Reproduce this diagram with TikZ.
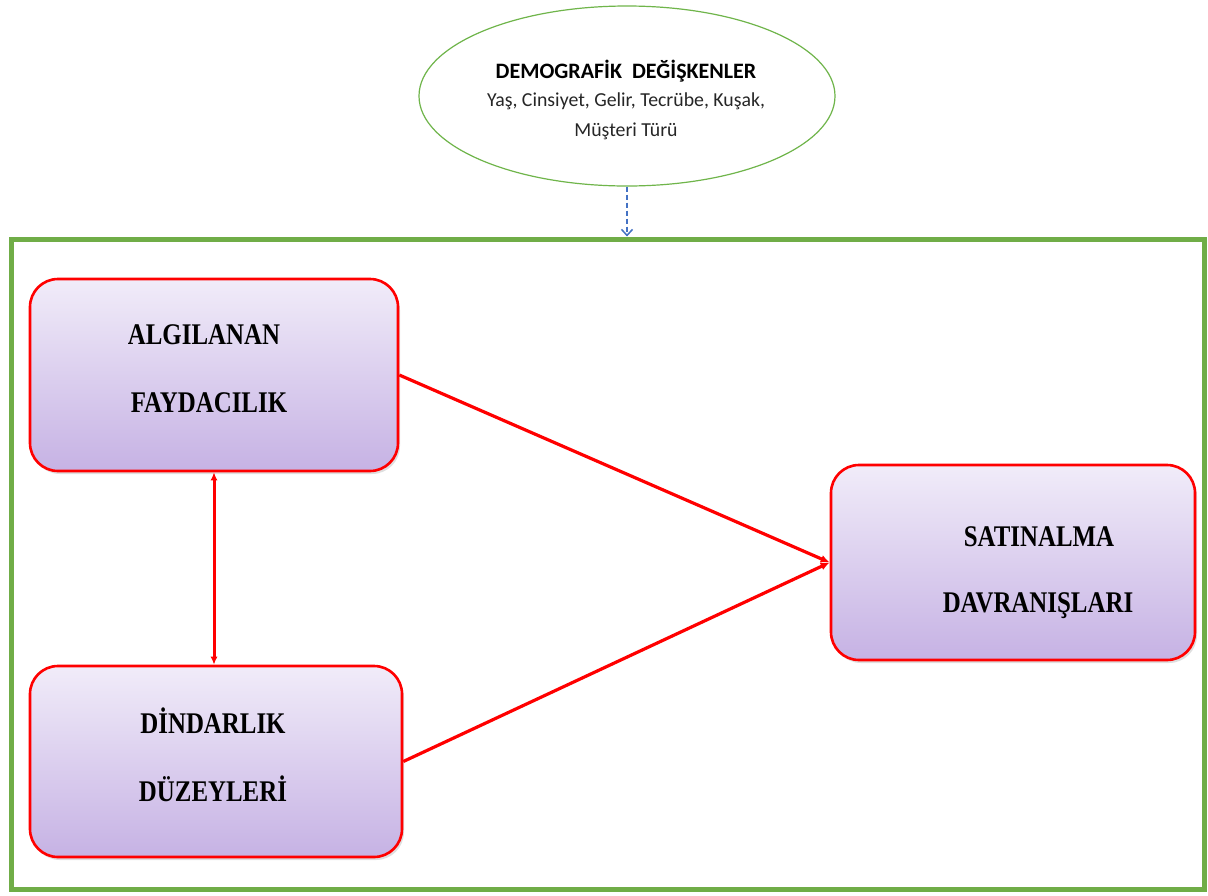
\documentclass[tikz,border=0pt]{standalone}
\usepackage{fontspec}
\usetikzlibrary{arrows.meta,shapes.geometric,shadows}
\newfontfamily\boxfont[FakeStretch=0.83]{Liberation Serif}
\newfontfamily\ovalfont{Carlito}
\definecolor{framegreen}{HTML}{70AD47}
\definecolor{ovalgreen}{HTML}{6FB54A}
\definecolor{dashblue}{HTML}{4472C4}
\definecolor{boxtop}{HTML}{F1ECF9}
\definecolor{boxbottom}{HTML}{C6B2E4}
\begin{document}
\begin{tikzpicture}[x=1pt,y=-1pt,
  factorbox/.style={draw=red,line width=2.6pt,rounded corners=28pt,
    top color=boxtop,bottom color=boxbottom,
    drop shadow={opacity=0.25,shadow xshift=2pt,shadow yshift=-3pt}},
  boxlabel/.style={font=\boxfont\bfseries\fontsize{30}{32}\selectfont,text=black,inner sep=0pt},
  effect/.style={draw=red,line width=3.2pt,-{Latex[length=9pt,width=8pt]}},
  link/.style={draw=red,line width=3pt,{Latex[length=8pt,width=7pt]}-{Latex[length=8pt,width=7pt]}},
  control/.style={draw=dashblue,line width=1.5pt,dashed,dash pattern=on 5pt off 3pt,
    -{Straight Barb[length=6pt,width=11pt,line width=1.5pt]}}]
\useasboundingbox (0,0) rectangle (1208,895);
\fill[white] (0,0) rectangle (1208,895);

% outer model frame
\node[draw=framegreen,line width=5pt,minimum width=1193pt,minimum height=650pt,inner sep=0pt]
  (frame) at (607.5,564) {};

% demographic moderators
\node[ellipse,draw=ovalgreen,line width=1.2pt,fill=white,minimum width=416pt,minimum height=180pt,inner sep=0pt]
  (demo) at (627,96) {};
\node[font=\ovalfont\bfseries\fontsize{22}{24}\selectfont,inner sep=0pt] (demotitle) at (626,71)
  {DEMOGRAFİK\ \ DEĞİŞKENLER};
\node[font=\ovalfont\fontsize{19.8}{22}\selectfont,text=black!85,inner sep=0pt] (demoline1) at (626,101)
  {Yaş, Cinsiyet, Gelir, Tecrübe, Kuşak,};
\node[font=\ovalfont\fontsize{19.8}{22}\selectfont,text=black!85,inner sep=0pt] (demoline2) at (626,131)
  {Müşteri Türü};

% factor boxes
\node[factorbox,minimum width=368pt,minimum height=192pt,inner sep=0pt] (fayda) at (214,375) {};
\node[factorbox,minimum width=372pt,minimum height=191pt,inner sep=0pt] (din) at (216,761.5) {};
\node[factorbox,minimum width=364pt,minimum height=195pt,inner sep=0pt] (satin) at (1013,562.5) {};

\node[boxlabel] (fayda1) at (204,335) {ALGILANAN};
\node[boxlabel] (fayda2) at (209,403) {FAYDACILIK};
\node[boxlabel] (din1) at (213,721) {DİNDARLIK};
\node[boxlabel] (din2) at (213,789) {DÜZEYLERİ};
\node[boxlabel] (satin1) at (1039,537) {SATINALMA};
\node[boxlabel] (satin2) at (1038,606) {DAVRANIŞLARI};

% connectors
\draw[control] (demo.south) -- (demo.south |- frame.north);
\draw[effect] (fayda.east) -- (satin.west);
\draw[effect] (din.east) -- (satin.west);
\draw[link] (fayda.south) -- (fayda.south |- din.north);
\end{tikzpicture}
\end{document}
